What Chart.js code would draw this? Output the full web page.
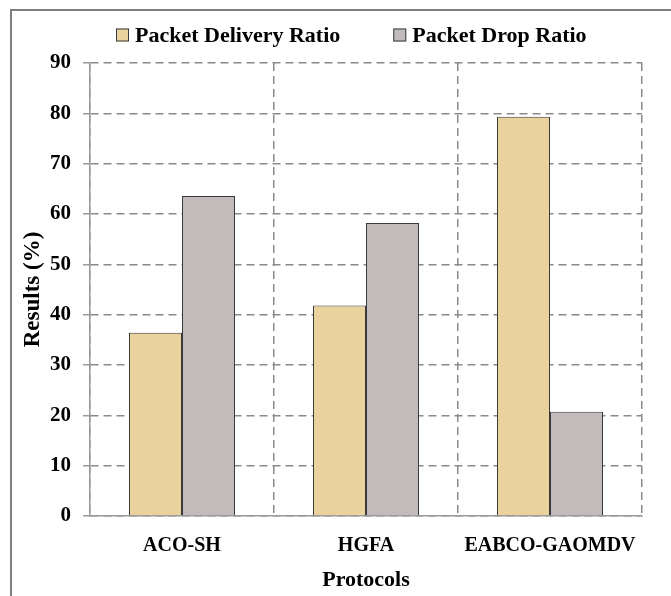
<!DOCTYPE html>
<html>
<head>
<meta charset="utf-8">
<script src="https://cdn.jsdelivr.net/npm/chart.js@4/dist/chart.umd.min.js"></script>
<style>
  html, body { margin: 0; padding: 0; background: #fff; overflow: hidden; }
  #frame { position: absolute; left: 10px; top: 9px; width: 720px; height: 640px; border: 2px solid #7f7f7f; }
  #chart { position: absolute; left: 0; top: 0; }
</style>
</head>
<body>
<div id="frame"></div>
<canvas id="chart" width="671" height="596"></canvas>
<script>
// Protocols compared and their measured ratios (%)
const categories = ['ACO-SH', 'HGFA', 'EABCO-GAOMDV'];
const deliveryRatio = [36.4, 41.8, 79.3];
const dropRatio = [63.6, 58.2, 20.7];
const seriesNames = ['Packet Delivery Ratio', 'Packet Drop Ratio'];
const yTicks = [0, 10, 20, 30, 40, 50, 60, 70, 80, 90];

const SERIF = '"Liberation Serif", "Times New Roman", serif';
const gridDash = [8, 5];

// Legend drawn above the plot: small outlined squares followed by bold labels
const topLegend = {
  id: 'topLegend',
  afterDraw(chart) {
    const ctx = chart.ctx;
    const area = chart.chartArea;
    const box = 13, boxGap = 6, itemGap = 53, cy = 35;
    ctx.save();
    ctx.font = 'bold 22px ' + SERIF;
    let x = area.left + 26;
    chart.data.datasets.forEach(ds => {
      const w = ctx.measureText(ds.label).width;
      ctx.fillStyle = ds.backgroundColor;
      ctx.fillRect(x, cy - box / 2, box, box);
      ctx.strokeStyle = '#3a3a3a';
      ctx.lineWidth = 1;
      ctx.strokeRect(x + 0.5, cy - box / 2 + 0.5, box - 1, box - 1);
      ctx.fillStyle = '#000';
      ctx.textBaseline = 'middle';
      ctx.textAlign = 'left';
      ctx.fillText(ds.label, x + box + boxGap, cy + 1);
      x += box + boxGap + w + itemGap;
    });
    ctx.restore();
  }
};

new Chart(document.getElementById('chart'), {
  type: 'bar',
  data: {
    labels: categories,
    datasets: [
      {
        label: seriesNames[0],
        data: deliveryRatio,
        backgroundColor: '#E9D29E',
        borderColor: '#3a3a3a',
        borderWidth: 1,
        categoryPercentage: 0.576,
        barPercentage: 1.0
      },
      {
        label: seriesNames[1],
        data: dropRatio,
        backgroundColor: '#C1BBBB',
        borderColor: '#3a3a3a',
        borderWidth: 1,
        categoryPercentage: 0.576,
        barPercentage: 1.0
      }
    ]
  },
  options: {
    responsive: false,
    animation: false,
    devicePixelRatio: 1,
    layout: { padding: { top: 63, left: 0, right: 29, bottom: 0 } },
    plugins: {
      legend: { display: false },
      tooltip: { enabled: false }
    },
    scales: {
      x: {
        offset: true,
        grid: {
          display: true,
          offset: true,
          color: '#8a8a8a',
          lineWidth: 1.5,
          drawTicks: false
        },
        border: { display: true, color: '#9a9a9a', width: 1.5, dash: gridDash },
        ticks: {
          color: '#000',
          padding: 18,
          font: { family: SERIF, size: 20, weight: 'bold' }
        },
        title: {
          display: true,
          text: 'Protocols',
          color: '#000',
          font: { family: SERIF, size: 22, weight: 'bold' },
          padding: { top: 0, bottom: 2 }
        },
        afterFit(scale) { scale.height = 80; }
      },
      y: {
        min: 0,
        max: 90,
        afterBuildTicks(scale) { scale.ticks = yTicks.map(v => ({ value: v })); },
        grid: {
          color: '#8a8a8a',
          lineWidth: 1.5,
          tickLength: 7,
          tickColor: '#9a9a9a',
          tickWidth: 1.5
        },
        border: { display: true, color: '#9a9a9a', width: 1.5, dash: gridDash },
        ticks: {
          color: '#000',
          padding: 12,
          font: { family: SERIF, size: 21, weight: 'bold' }
        },
        title: {
          display: true,
          text: 'Results (%)',
          color: '#000',
          font: { family: SERIF, size: 23, weight: 'bold' },
          padding: { top: 19, bottom: 0 }
        },
        afterFit(scale) { scale.width = 90; }
      }
    }
  },
  plugins: [topLegend]
});
</script>
</body>
</html>
